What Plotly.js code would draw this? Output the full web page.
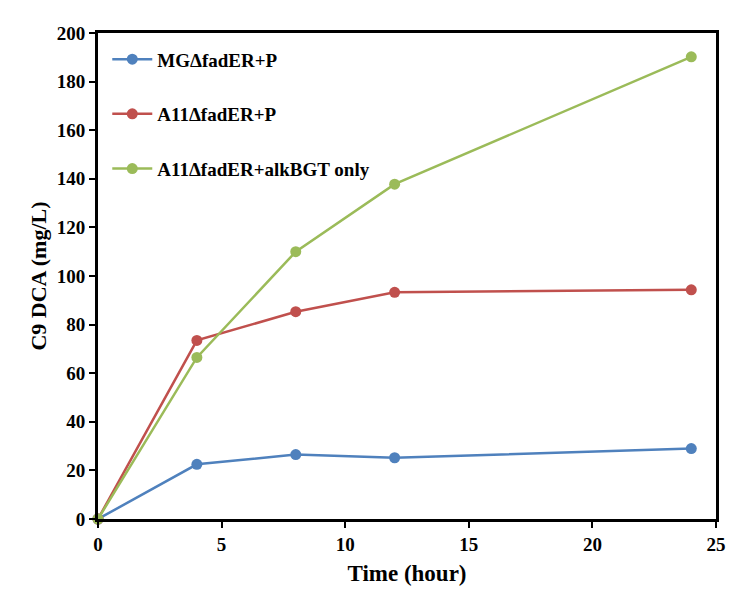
<!DOCTYPE html>
<html>
<head>
<meta charset="utf-8">
<script src="https://cdn.plot.ly/plotly-3.0.1.min.js"></script>
<style>html,body{margin:0;padding:0;background:#fff;}#chart{width:750px;height:614px;}</style>
</head>
<body>
<div id="chart"></div>
<script>
const timeHours = [0, 4, 8, 12, 24];
const seriesNames = ["MG\u0394fadER+P", "A11\u0394fadER+P", "A11\u0394fadER+alkBGT only"];
const mgFadERP = [0, 22.5, 26.5, 25.2, 29.0];
const a11FadERP = [0, 73.5, 85.3, 93.3, 94.3];
const a11AlkBGT = [0, 66.5, 110.0, 137.8, 190.2];
const xTicks = [0, 5, 10, 15, 20, 25];
const yTicks = [0, 20, 40, 60, 80, 100, 120, 140, 160, 180, 200];

const colors = ["#4F81BD", "#C0504D", "#9BBB59"];
const allSeries = [mgFadERP, a11FadERP, a11AlkBGT];

const traces = allSeries.map((ys, i) => ({
  x: timeHours,
  y: ys,
  name: seriesNames[i],
  type: "scatter",
  mode: "lines+markers",
  line: {color: colors[i], width: 2.5},
  marker: {color: colors[i], size: 11},
  cliponaxis: false,
  legendgroup: "g" + i
}));

const font = {family: "'Liberation Serif', 'Times New Roman', serif", color: "#000"};

const layout = {
  width: 750, height: 614,
  margin: {l: 98, r: 34, t: 33, b: 95},
  paper_bgcolor: "#fff", plot_bgcolor: "#fff",
  showlegend: true,
  legend: {
    x: 0.015, y: 0.985, xanchor: "left", yanchor: "top",
    bgcolor: "rgba(0,0,0,0)",
    font: Object.assign({}, font, {size: 19, weight: "bold"}),
    traceorder: "grouped",
    tracegroupgap: 27,
    itemwidth: 40
  },
  xaxis: {
    range: [0, 25], tickvals: xTicks, ticktext: xTicks.map(String),
    showgrid: false, zeroline: false,
    showline: true, linecolor: "#000", linewidth: 3, mirror: true,
    ticks: "outside", ticklen: 6, tickwidth: 2, tickcolor: "#000",
    tickfont: Object.assign({}, font, {size: 19, weight: "bold"}),
    title: {text: "Time (hour)", font: Object.assign({}, font, {size: 23, weight: "bold"}), standoff: 12}
  },
  yaxis: {
    range: [0, 200], tickvals: yTicks, ticktext: yTicks.map(String),
    showgrid: false, zeroline: false,
    showline: true, linecolor: "#000", linewidth: 3, mirror: true,
    ticks: "outside", ticklen: 6, tickwidth: 2, tickcolor: "#000",
    tickfont: Object.assign({}, font, {size: 19, weight: "bold"}),
    title: {text: "C9 DCA (mg/L)", font: Object.assign({}, font, {size: 22, weight: "bold"}), standoff: 5}
  }
};

Plotly.newPlot("chart", traces, layout, {displayModeBar: false, staticPlot: true});
</script>
</body>
</html>
